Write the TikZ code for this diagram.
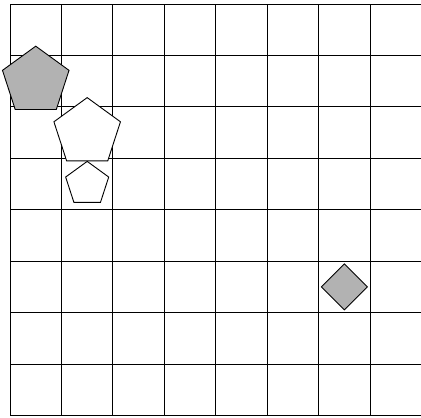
\documentclass[tikz,border=0pt]{standalone}
\usetikzlibrary{shapes.geometric}
\tikzset{
  gridline/.style={draw=black, line width=0.5pt},
  pent/.style={regular polygon, regular polygon sides=5, draw=black, line width=0.5pt, inner sep=0pt, minimum size=1.36cm},
  smallpent/.style={pent, minimum size=0.88cm},
  dia/.style={diamond, draw=black, line width=0.5pt, inner sep=0pt, minimum width=0.9cm, minimum height=0.9cm, fill=gray!60},
}
\begin{document}
\begin{tikzpicture}
\useasboundingbox (-0.195,0.078) rectangle (7.99,-8.035);
\fill[white] (-0.195,0.078) rectangle (7.99,-8.035);
\draw[gridline] (0,0) grid (8,-8);
\node[pent, fill=gray!60] (p1) at (0.5,-1.5) {};
\node[pent, fill=white] (p2) at (1.5,-2.5) {};
\node[smallpent, fill=white] (p3) at (1.5,-3.5) {};
\node[dia] (d1) at (6.5,-5.5) {};
\end{tikzpicture}
\end{document}
